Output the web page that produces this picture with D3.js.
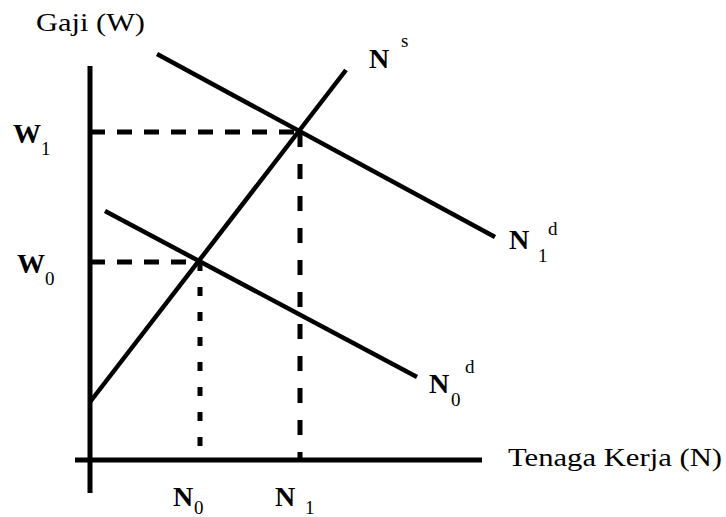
<!DOCTYPE html>
<html>
<head>
<meta charset="utf-8">
<script src="https://cdn.jsdelivr.net/npm/d3@7"></script>
<style>
  html, body { margin: 0; padding: 0; background: #fff; }
  svg { display: block; }
</style>
</head>
<body>
<svg id="chart" width="726" height="517"></svg>
<script>
// ---- data (abstract model units) ----
const axisTitles = ["Gaji (W)", "Tenaga Kerja (N)"];
const wageLevels = [4.95, 8.2];          // W0, W1
const wageLabels = ["W", "W"];
const wageSubs = ["0", "1"];
const labourLevels = [2.75, 5.25];       // N0, N1
const labourSubs = ["0", "1"];
const supplyCurve = [[0, 1.45], [6.4, 9.75]];              // N^s
const demandCurve0 = [[0.375, 6.225], [8.175, 2.075]];     // N0^d
const demandCurve1 = [[1.675, 10.15], [10.125, 5.575]];    // N1^d
const xAxisExtent = [-0.375, 9.8];
const yAxisExtent = [-0.825, 9.85];

const FONT = "'Liberation Serif', Tinos, 'DejaVu Serif', serif";
const svg = d3.select("#chart");
const x = d3.scaleLinear().domain([0, 10]).range([90, 490]);
const y = d3.scaleLinear().domain([0, 10]).range([460, 60]);
const line = d3.line().x(d => x(d[0])).y(d => y(d[1]));

// dashed guides
const dashH = "15,12";
wageLevels.forEach((w, i) => {
  const n = labourLevels[i];
  svg.append("line").attr("x1", x(0)).attr("x2", x(n)).attr("y1", y(w)).attr("y2", y(w))
    .attr("stroke", "#000").attr("stroke-width", 5).attr("stroke-dasharray", dashH);
  svg.append("line").attr("x1", x(n)).attr("x2", x(n)).attr("y1", y(w)).attr("y2", y(0))
    .attr("stroke", "#000").attr("stroke-width", 5)
    .attr("stroke-dasharray", i === 0 ? "9,16" : "15,17");
});

// axes
svg.append("line").attr("x1", x(0)).attr("x2", x(0)).attr("y1", y(yAxisExtent[1])).attr("y2", y(yAxisExtent[0]))
  .attr("stroke", "#000").attr("stroke-width", 5);
svg.append("line").attr("x1", x(xAxisExtent[0])).attr("x2", x(xAxisExtent[1])).attr("y1", y(0)).attr("y2", y(0))
  .attr("stroke", "#000").attr("stroke-width", 5);

// curves
[supplyCurve, demandCurve0, demandCurve1].forEach(c => {
  svg.append("path").attr("d", line(c)).attr("fill", "none")
    .attr("stroke", "#000").attr("stroke-width", 4.5);
});

// axis titles
svg.append("text").attr("x", 36).attr("y", 31).attr("font-size", 26).attr("font-family", FONT)
  .attr("textLength", 109).attr("lengthAdjust", "spacingAndGlyphs").text(axisTitles[0]);
svg.append("text").attr("x", 508).attr("y", 466).attr("font-size", 26).attr("font-family", FONT)
  .attr("textLength", 214).attr("lengthAdjust", "spacingAndGlyphs").text(axisTitles[1]);

function symbol(xp, yp, main, sub, sup, subDx, subDy, supDx, supDy) {
  svg.append("text").attr("x", xp).attr("y", yp).attr("font-size", 28).attr("font-family", FONT)
    .attr("font-weight", "bold").text(main);
  if (sub) svg.append("text").attr("x", xp + subDx).attr("y", yp + subDy).attr("font-family", FONT)
    .attr("font-size", 19).text(sub);
  if (sup) svg.append("text").attr("x", xp + supDx).attr("y", yp + supDy).attr("font-family", FONT)
    .attr("font-size", 19).text(sup);
}

// W labels
wageLevels.forEach((w, i) => {
  const yp = y(w) + 11;
  symbol(i === 0 ? 17 : 13, yp, wageLabels[i], wageSubs[i], null, 28, 12);
});
// N labels on x axis
labourLevels.forEach((n, i) => {
  symbol(x(n) - 27 + (i === 1 ? 2 : 0), 506, "N", labourSubs[i], null, i === 0 ? 21 : 30, 8);
});
// curve labels
const sEnd = supplyCurve[1], d0End = demandCurve0[1], d1End = demandCurve1[1];
symbol(x(sEnd[0]) + 23, y(sEnd[1]) - 2, "N", null, "s", 0, 0, 32, -21);
symbol(x(d0End[0]) + 12, y(d0End[1]) + 16, "N", "0", "d", 22, 13, 36, -20);
symbol(x(d1End[0]) + 14, y(d1End[1]) + 12, "N", "1", "d", 29, 13, 39, -14);
</script>
</body>
</html>
